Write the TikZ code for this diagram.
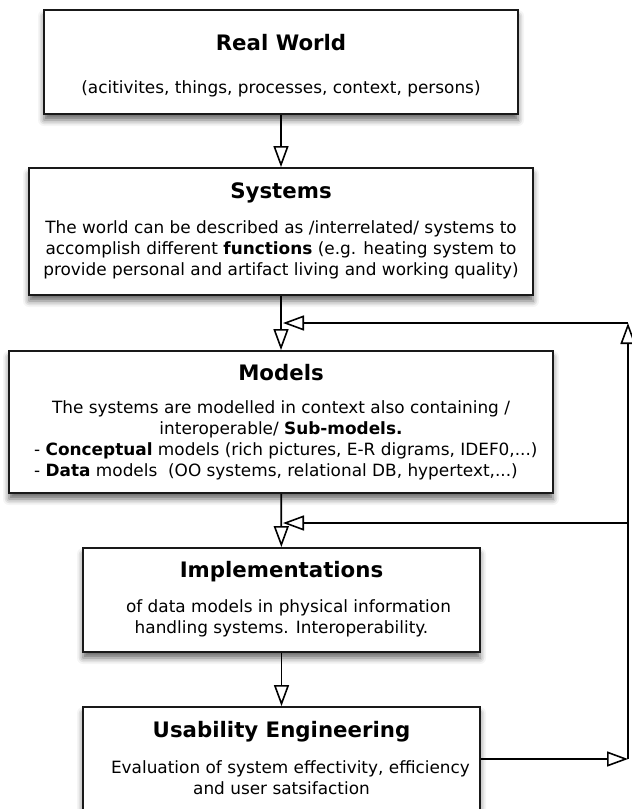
\documentclass[tikz,border=0pt]{standalone}
\usepackage{fontspec}
\setmainfont{DejaVu Sans}
\usetikzlibrary{arrows.meta,shadows.blur}
\begin{document}
\begin{tikzpicture}[x=1pt,y=-1pt,
 box/.style={draw=black!90, line width=1.8pt, fill=white, rectangle, inner sep=0pt,
   blur shadow={shadow xshift=0pt, shadow yshift=-6pt, shadow blur radius=6pt, shadow opacity=60}},
 ttl/.style={font=\fontsize{21.3}{25}\selectfont\bfseries, inner sep=0pt},
 txt/.style={font=\fontsize{16.9}{21}\selectfont, align=center, inner sep=0pt},
 txtl/.style={font=\fontsize{16.9}{21}\selectfont, align=left, inner sep=0pt, anchor=west},
 conn/.style={line width=1.6pt, -{Triangle[open, length=21pt, width=15pt, line width=1.6pt]}}]
\useasboundingbox (0,0) rectangle (632,809);
\clip (0,0) rectangle (632,809);

% boxes
\node[box, minimum width=474pt, minimum height=104pt] (rw) at (281,62) {};
\node[ttl] (rwt) at (281,43) {Real World};
\node[txt] (rwb) at (281,89) {(acitivites, things, processes, context, persons)};

\node[box, minimum width=504pt, minimum height=127pt] (sys) at (281,231.5) {};
\node[ttl] (syst) at (281,193) {Systems};
\node[txt] (sysb) at (281,249.5) {The world can be described as /interrelated/ systems to\\
accomplish different \textbf{functions} (e.g. heating system to\\
provide personal and artifact living and working quality)};

\node[box, minimum width=544pt, minimum height=142pt] (mod) at (281,422) {};
\node[ttl] (modt) at (281,373) {Models};
\node[txt] (modb) at (281,419.5) {The systems are modelled in context also containing /\\
interoperable/ \textbf{Sub-models.}};
\node[txtl] (modl) at (34,461.5) {- \textbf{Conceptual} models (rich pictures, E-R digrams, IDEF0,...)\\
- \textbf{Data} models\ \ (OO systems, relational DB, hypertext,...)};

\node[box, minimum width=397pt, minimum height=104pt] (impl) at (281.5,600) {};
\node[ttl] (implt) at (281.5,572) {Implementations};
\node[txt] (implb) at (281.5,618) {\hspace*{14pt}of data models in physical information\\
handling systems. Interoperability.};

\node[box, minimum width=397pt, minimum height=133pt] (use) at (281.5,773.5) {};
\node[ttl] (uset) at (281.5,732) {Usability Engineering};
\node[txt] (useb) at (281.5,778) {\hspace*{18pt}Evaluation of system effectivity, efficiency\\
and user satsifaction};

% main flow
\draw[conn] (rw) -- (sys);
\draw[conn] (sys) -- (mod);
\draw[conn] (mod) -- (impl);
\draw[conn] (impl) -- (use);

% feedback
\coordinate (j1) at (283,323);
\coordinate (j2) at (283,523);
\coordinate (r1) at (628,323);
\coordinate (r2) at (628,523);
\coordinate (r3) at (628,759);
\draw[conn] (use.east |- r3) -- (r3);
\draw[conn] (r3) -- (r1);
\draw[conn] (r1) -- (j1);
\draw[conn] (r2) -- (j2);
\end{tikzpicture}
\end{document}
